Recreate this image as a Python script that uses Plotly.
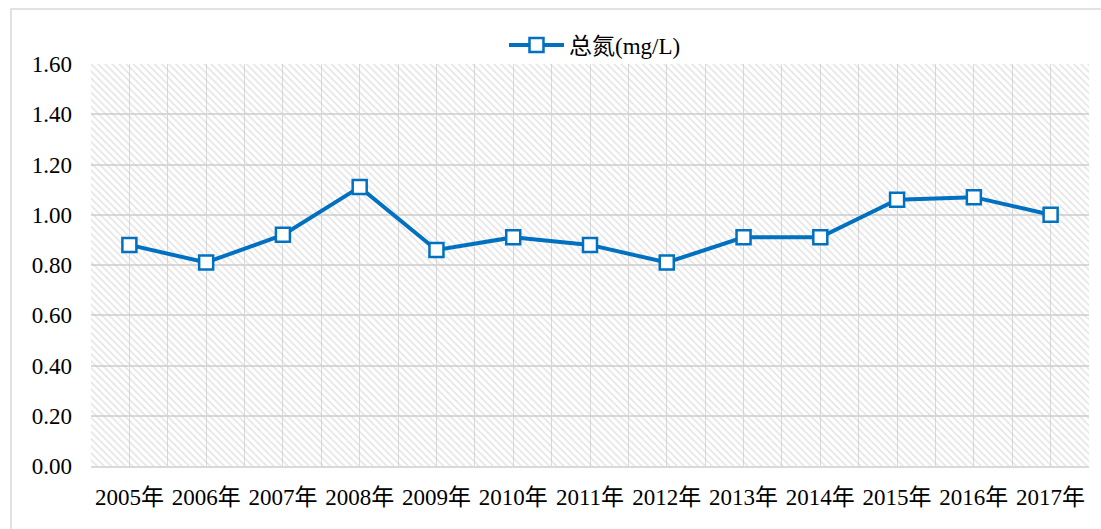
import plotly.graph_objects as go

years = ["2005年", "2006年", "2007年", "2008年", "2009年", "2010年", "2011年",
         "2012年", "2013年", "2014年", "2015年", "2016年", "2017年"]
tn_values = [0.88, 0.81, 0.92, 1.11, 0.86, 0.91, 0.88, 0.81, 0.91, 0.91, 1.06, 1.07, 1.00]
y_ticks = [0.0, 0.2, 0.4, 0.6, 0.8, 1.0, 1.2, 1.4, 1.6]
y_ticktext = ["%.2f" % v for v in y_ticks]
series_name = "总氮(mg/L)"

n = len(years)
xpos = list(range(n))
FONT = "Liberation Serif, Times New Roman, Noto Sans CJK SC, serif"
BLUE = "#0070C0"
GRID = "#d9d9d9"

fig = go.Figure()

# hatched plot-area background
fig.add_trace(go.Scatter(
    x=[-0.5, n - 0.5, n - 0.5, -0.5, -0.5],
    y=[y_ticks[0], y_ticks[0], y_ticks[-1], y_ticks[-1], y_ticks[0]],
    mode="lines", line=dict(width=0, color="rgba(0,0,0,0)"),
    fill="toself", fillcolor="rgba(0,0,0,0)",
    fillpattern=dict(shape="\\", fgcolor="#c8c8c8", bgcolor="rgba(0,0,0,0)",
                     size=5, solidity=0.3),
    hoverinfo="skip", showlegend=False,
))

fig.add_trace(go.Scatter(
    x=xpos, y=tn_values, name=series_name, mode="lines+markers",
    line=dict(color=BLUE, width=4),
    marker=dict(symbol="square", size=14, color="white",
                line=dict(color=BLUE, width=2.5)),
))

half_ticks = [i - 0.5 for i in range(n + 1)]

fig.update_layout(
    width=1101, height=529,
    margin=dict(l=91, r=12, t=64, b=63),
    paper_bgcolor="white", plot_bgcolor="white",
    font=dict(family=FONT, size=23, color="black"),
    showlegend=True,
    legend=dict(orientation="h", x=0.505, xanchor="center", y=1.047, yanchor="middle",
                itemwidth=55,
                font=dict(family=FONT, size=23), bgcolor="rgba(0,0,0,0)"),
    xaxis=dict(
        range=[-0.5, n - 0.5], tickmode="array", tickvals=xpos, ticktext=years,
        showgrid=True, gridcolor=GRID, gridwidth=1,
        minor=dict(tickmode="array", tickvals=half_ticks, showgrid=True,
                   gridcolor=GRID, gridwidth=1),
        showline=True, linecolor=GRID, linewidth=1.5,
        ticks="", ticklabelstandoff=10, zeroline=False, fixedrange=True,
    ),
    yaxis=dict(
        range=[0, 1.6], tickmode="array", tickvals=y_ticks, ticktext=y_ticktext,
        showgrid=True, gridcolor=GRID, gridwidth=1.5,
        showline=False, zeroline=False, ticks="", ticklabelstandoff=18,
        fixedrange=True,
    ),
    shapes=[dict(type="rect", xref="paper", yref="paper",
                 x0=(11 - 91) / 998, x1=1.1, y0=-0.4, y1=(466 - 9) / 402,
                 line=dict(color=GRID, width=1.5), fillcolor="rgba(0,0,0,0)",
                 layer="below")],
)

fig.write_html("out.html", config={"displayModeBar": False},
               post_script="document.body.style.margin='0';document.body.style.overflow='hidden';")
